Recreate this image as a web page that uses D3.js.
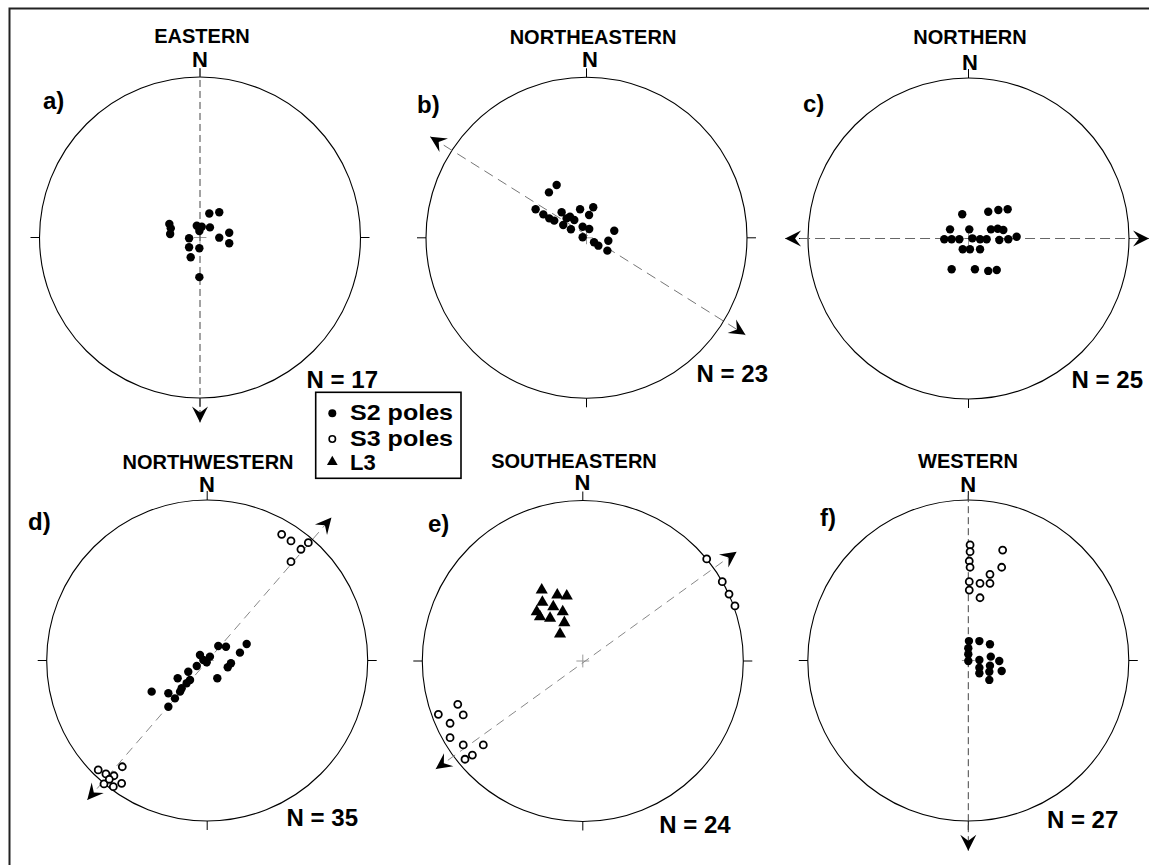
<!DOCTYPE html>
<html><head><meta charset="utf-8">
<script src="https://cdn.jsdelivr.net/npm/d3@7"></script>
<style>
body{margin:0;background:#fff}
svg{display:block}
text{font-family:"Liberation Sans",Arial,Helvetica,sans-serif;font-weight:bold;fill:#000}
</style>
</head><body>
<svg id="chart" width="1149" height="865"></svg>
<script>
// ---------- DATA (net coordinates: [east, north] in units of primitive-circle radius) ----------
const panelLetters = ["a)", "b)", "c)", "d)", "e)", "f)"];
const regionTitles = ["EASTERN", "NORTHEASTERN", "NORTHERN", "NORTHWESTERN", "SOUTHEASTERN", "WESTERN"];
const sampleCounts = [17, 23, 25, 35, 24, 27];
const legendLabels = ["S2 poles", "S3 poles", "L3"];

const s2Eastern = [[0.058,0.150],[0.120,0.157],[-0.191,0.084],[-0.182,0.057],[-0.186,0.022],[-0.020,0.073],
  [0.011,0.067],[0.062,0.063],[-0.004,0.040],[0.182,0.030],[0.120,-0.001],[0.182,-0.036],[-0.068,-0.005],
  [-0.068,-0.061],[-0.004,-0.067],[-0.058,-0.123],[-0.004,-0.247]];

const s2Northeastern = [[-0.186,0.329],[-0.234,0.283],[-0.317,0.178],[-0.269,0.146],[-0.232,0.121],[-0.201,0.107],
  [-0.155,0.159],[-0.145,0.080],[-0.103,0.131],[-0.076,0.111],[-0.097,0.053],[-0.040,0.178],[0.016,0.142],
  [0.042,0.190],[-0.024,0.069],[0.017,0.055],[-0.024,0.003],[0.047,-0.028],[0.074,-0.049],[0.136,-0.018],
  [0.130,-0.080],[0.173,0.044],[-0.124,0.121]];

const s2Northern = [[-0.039,0.151],[0.123,0.167],[0.186,0.178],[0.244,0.182],[-0.115,0.057],[0.005,0.057],
  [0.140,0.057],[0.182,0.061],[0.217,0.053],[-0.151,-0.005],[-0.105,-0.005],[-0.057,-0.005],[0.024,0.001],
  [0.072,-0.005],[0.113,-0.005],[0.192,-0.009],[0.248,-0.005],[0.300,0.011],[-0.036,-0.067],[0.009,-0.067],
  [0.072,-0.067],[-0.105,-0.192],[0.040,-0.192],[0.123,-0.202],[0.176,-0.196]];

const s2Northwestern = [[-0.346,-0.194],[-0.242,-0.204],[-0.201,-0.236],[-0.242,-0.288],[-0.169,-0.194],
  [-0.184,-0.111],[-0.128,-0.142],[-0.107,-0.121],[-0.118,-0.070],[-0.065,-0.034],[-0.045,0.034],[0.017,0.024],
  [-0.003,-0.011],[0.069,0.090],[0.117,0.086],[0.246,0.103],[0.204,0.049],[0.148,-0.017],[0.128,-0.042],
  [0.063,-0.111],[-0.024,0.003],[-0.159,-0.173]];
const s3Northwestern = [[-0.679,-0.682],[-0.631,-0.707],[-0.581,-0.718],[-0.529,-0.662],[-0.643,-0.769],
  [-0.585,-0.786],[-0.533,-0.765],[-0.610,-0.740],
  [0.464,0.786],[0.522,0.745],[0.584,0.693],[0.630,0.734],[0.522,0.616]];

const l3Southeastern = [[-0.256,0.442],[-0.159,0.411],[-0.100,0.405],[-0.252,0.366],[-0.184,0.338],[-0.287,0.307],
  [-0.267,0.276],[-0.125,0.307],[-0.204,0.266],[-0.115,0.239],[-0.142,0.168]];
const s3Southeastern = [[-0.779,-0.270],[-0.900,-0.332],[-0.745,-0.336],[-0.827,-0.388],[-0.827,-0.478],
  [-0.745,-0.523],[-0.620,-0.523],[-0.688,-0.586],[-0.734,-0.612],
  [0.772,0.636],[0.869,0.494],[0.911,0.417],[0.948,0.343]];

const s2Western = [[0.004,0.121],[0.069,0.121],[0.135,0.101],[0.000,0.076],[0.000,0.039],[0.000,-0.003],
  [0.069,0.003],[0.069,-0.045],[0.069,-0.080],[0.140,0.024],[0.193,-0.003],[0.135,-0.032],[0.208,-0.065],
  [0.131,-0.070],[0.131,-0.121]];
const s3Western = [[0.011,0.720],[0.011,0.678],[0.006,0.620],[0.011,0.581],[0.006,0.491],[0.006,0.439],
  [0.073,0.481],[0.073,0.391],[0.135,0.537],[0.135,0.481],[0.214,0.688],[0.208,0.581]];

// trend lines: [azimuth (deg), distance from centre (radius units), arrowhead (1/0)]
const trendEastern      = [[0, 1.05, 0], [180, 1.152, 1]];
const trendNortheastern = [[302.9, 1.16, 1], [121.4, 1.16, 1]];
const trendNorthern     = [[270, 1.143, 1], [90, 1.125, 1]];
const trendNorthwestern = [[220.7, 1.146, 1], [41.0, 1.18, 1]];
const trendSoutheastern = [[233.7, 1.137, 1], [54.6, 1.176, 1]];
const trendWestern      = [[0, 1.03, 0], [180, 1.185, 1]];

// ---------- LAYOUT ----------
const R = 160.5;
const layout = [
  {cx:200,   cy:237.5, title:[202,43],   n:[200,67],    letter:[43,108.5], count:[378,388],
   s2:s2Eastern, s3:[], l3:[], trend:trendEastern, dash:"7,4", dashColor:"#444"},
  {cx:586.5, cy:237.8, title:[593,44],   n:[590,66.7],  letter:[417,113],  count:[768,381.5],
   s2:s2Northeastern, s3:[], l3:[], trend:trendNortheastern, dash:"10,6", dashColor:"#777"},
  {cx:968.5, cy:238.5, title:[970,44.3], n:[970,70],    letter:[803,111.5],count:[1143,388],
   s2:s2Northern, s3:[], l3:[], trend:trendNorthern, dash:"10,5", dashColor:"#666"},
  {cx:207.2, cy:660.5, title:[208,469.3],n:[207,491.7], letter:[28,530],   count:[358,825.5],
   s2:s2Northwestern, s3:s3Northwestern, l3:[], trend:trendNorthwestern, dash:"9,6", dashColor:"#888"},
  {cx:582.8, cy:661,   title:[574,467.7],n:[582.5,490], letter:[428,531.5],count:[730.7,833.3],
   s2:[], s3:s3Southeastern, l3:l3Southeastern, trend:trendSoutheastern, dash:"9,6", dashColor:"#888"},
  {cx:968.3, cy:660.5, title:[968,467.7],n:[968.3,491.7],letter:[820,525.5],count:[1118.3,827.7],
   s2:s2Western, s3:s3Western, l3:[], trend:trendWestern, dash:"7,4", dashColor:"#444"}
];

const svg = d3.select("#chart");

// frame (top and left edges visible)
svg.append("path").attr("d","M9.5,865V8.5H1149").attr("fill","none").attr("stroke","#222").attr("stroke-width",2);

const arrowPath = "M0,0L-16,-8L-10,0L-16,8Z";
const tri = d3.symbol().type(d3.symbolTriangle).size(64);

layout.forEach((p, i) => {
  const x = d3.scaleLinear().domain([-1, 1]).range([p.cx - R, p.cx + R]);
  const y = d3.scaleLinear().domain([-1, 1]).range([p.cy + R, p.cy - R]);
  const g = svg.append("g");
  const polar = (az, r) => [x(r * Math.sin(az * Math.PI / 180)), y(r * Math.cos(az * Math.PI / 180))];

  // primitive circle
  g.append("circle").attr("cx", x(0)).attr("cy", y(0)).attr("r", x(1) - x(0))
    .attr("fill", "none").attr("stroke", "#000").attr("stroke-width", 1.1);
  // cardinal ticks
  [0, 90, 180, 270].forEach(az => {
    const a = polar(az, 1), b = polar(az, 1.056);
    g.append("line").attr("x1", a[0]).attr("y1", a[1]).attr("x2", b[0]).attr("y2", b[1])
      .attr("stroke", "#000").attr("stroke-width", 1);
  });
  // centre cross
  g.append("line").attr("x1", x(-0.04)).attr("x2", x(0.04)).attr("y1", y(0)).attr("y2", y(0)).attr("stroke", "#999");
  g.append("line").attr("x1", x(0)).attr("x2", x(0)).attr("y1", y(-0.04)).attr("y2", y(0.04)).attr("stroke", "#999");

  // trend line with arrowheads
  const e1 = polar(p.trend[0][0], p.trend[0][1]);
  const e2 = polar(p.trend[1][0], p.trend[1][1]);
  g.append("line").attr("x1", e1[0]).attr("y1", e1[1]).attr("x2", e2[0]).attr("y2", e2[1])
    .attr("stroke", p.dashColor).attr("stroke-width", 1).attr("stroke-dasharray", p.dash);
  const ang = Math.atan2(e2[1] - e1[1], e2[0] - e1[0]) * 180 / Math.PI;
  if (p.trend[1][2]) g.append("path").attr("d", arrowPath).attr("fill", "#000")
    .attr("transform", `translate(${e2[0]},${e2[1]}) rotate(${ang})`);
  if (p.trend[0][2]) g.append("path").attr("d", arrowPath).attr("fill", "#000")
    .attr("transform", `translate(${e1[0]},${e1[1]}) rotate(${ang + 180})`);

  // data
  g.selectAll(".s3").data(p.s3).join("circle").attr("class", "s3")
    .attr("cx", d => x(d[0])).attr("cy", d => y(d[1])).attr("r", 3.5)
    .attr("fill", "#fff").attr("stroke", "#000").attr("stroke-width", 1.8);
  g.selectAll(".s2").data(p.s2).join("circle").attr("class", "s2")
    .attr("cx", d => x(d[0])).attr("cy", d => y(d[1])).attr("r", 4.2).attr("fill", "#000");
  g.selectAll(".l3").data(p.l3).join("path").attr("class", "l3").attr("d", tri)
    .attr("transform", d => `translate(${x(d[0])},${y(d[1])})`).attr("fill", "#000");

  // texts
  g.append("text").attr("x", p.title[0]).attr("y", p.title[1]).attr("text-anchor", "middle")
    .attr("font-size", 20).text(regionTitles[i]);
  g.append("text").attr("x", p.n[0]).attr("y", p.n[1]).attr("text-anchor", "middle")
    .attr("font-size", 22).text("N");
  g.append("text").attr("x", p.letter[0]).attr("y", p.letter[1])
    .attr("font-size", 24).text(panelLetters[i]);
  g.append("text").attr("x", p.count[0]).attr("y", p.count[1]).attr("text-anchor", "end")
    .attr("font-size", 24).text("N = " + sampleCounts[i]);
});

// legend
const lg = svg.append("g");
lg.append("rect").attr("x", 315.7).attr("y", 392.3).attr("width", 145.3).attr("height", 86)
  .attr("fill", "#fff").attr("stroke", "#000").attr("stroke-width", 1.6);
const rowsY = [420, 445.5, 470];
lg.append("circle").attr("cx", 332.3).attr("cy", 413.3).attr("r", 4).attr("fill", "#000");
lg.append("circle").attr("cx", 332.3).attr("cy", 439).attr("r", 3.2).attr("fill", "#fff").attr("stroke", "#000").attr("stroke-width", 1.6);
lg.append("path").attr("d", d3.symbol().type(d3.symbolTriangle).size(50)).attr("transform", "translate(332.3,462)").attr("fill", "#000");
legendLabels.forEach((t, k) => {
  const tx = lg.append("text").attr("x", 350).attr("y", rowsY[k]).attr("font-size", 22).text(t);
  if (k < 2) tx.attr("textLength", 103).attr("lengthAdjust", "spacingAndGlyphs");
});
</script>
</body></html>
